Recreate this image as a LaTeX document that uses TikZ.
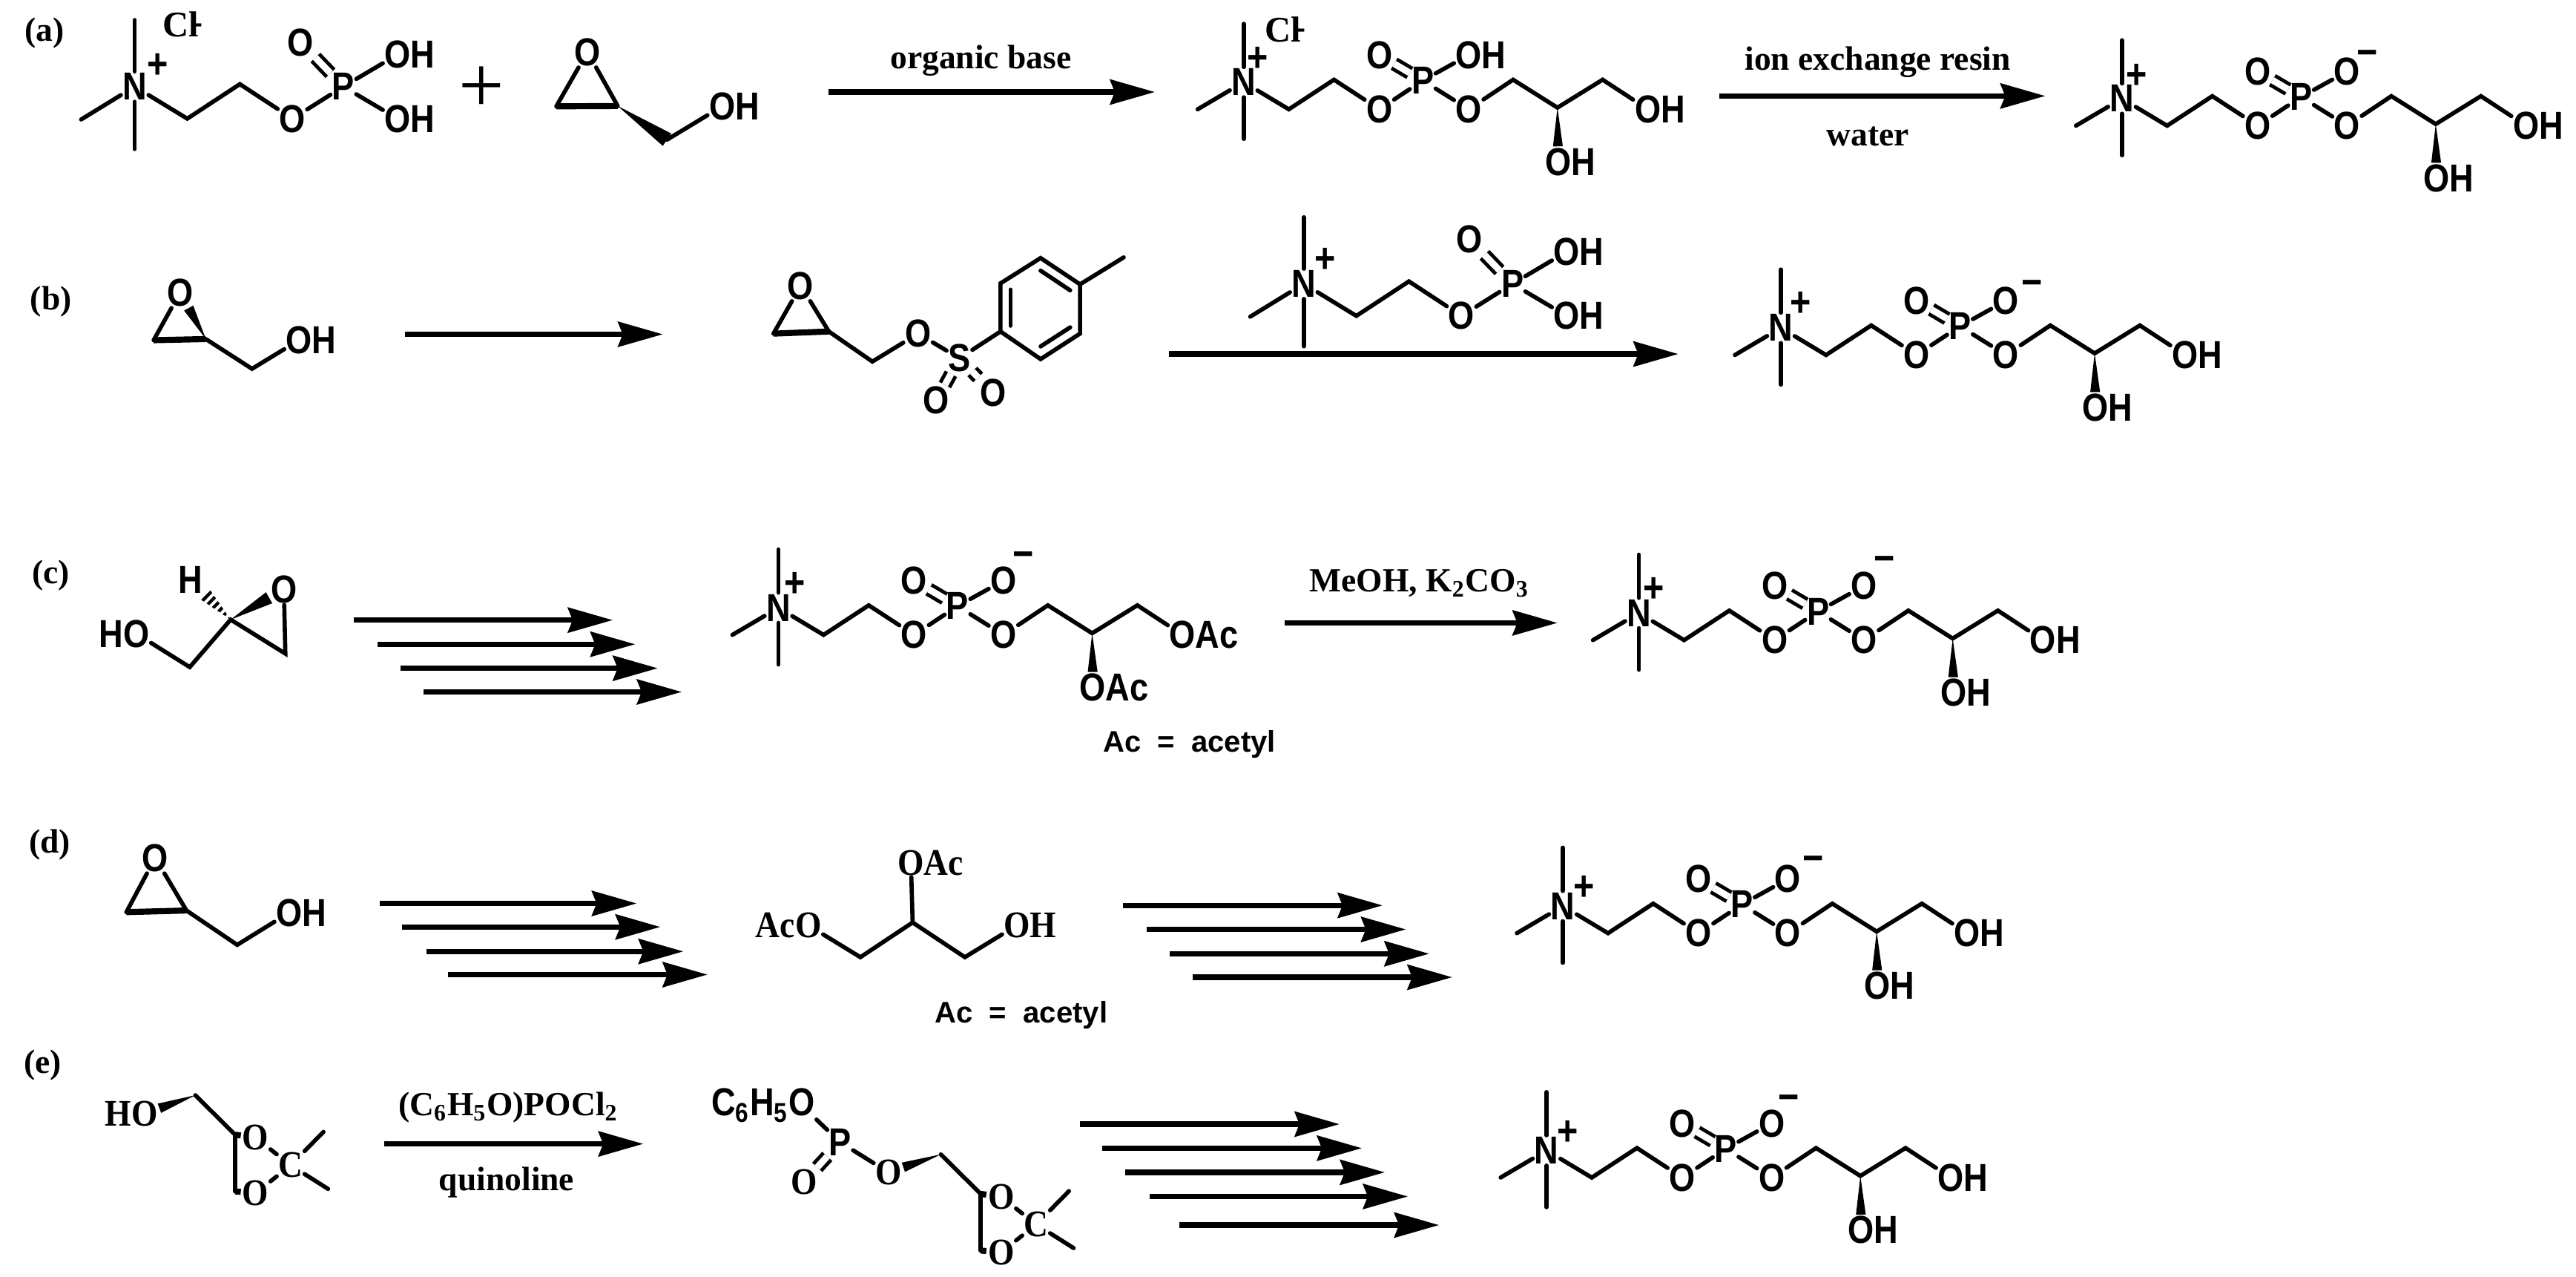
\documentclass[tikz,border=0pt]{standalone}
\usepackage{fontspec}
\setmainfont{Liberation Serif}
\newfontfamily\atomface[FakeStretch=0.86]{Liberation Sans}
\newfontfamily\serifface[FakeStretch=0.9]{Liberation Serif}
\newfontfamily\noteface[WordSpace=2]{Liberation Sans}
\usetikzlibrary{arrows.meta,calc}

\tikzset{
	bond/.style={line width=1.45pt,line cap=round},
	heavybond/.style={line width=2.1pt},
	dblbond/.style={double,double distance=2.3pt,line width=1.25pt},
	rxnarrow/.style={line width=1.9pt,-{Stealth[length=15.5pt,width=8.6pt,inset=1.6pt]}},
	atom/.style={font=\atomface\bfseries\fontsize{13.5}{13.5}\selectfont,inner sep=0.4pt},
	serifatom/.style={font=\serifface\bfseries\fontsize{13}{13}\selectfont,inner sep=0.4pt},
	charge/.style={font=\atomface\bfseries\fontsize{14.5}{14.5}\selectfont,inner sep=0pt},
	chloride/.style={font=\bfseries\fontsize{12.5}{13}\selectfont,inner sep=0pt},
	reagent/.style={font=\bfseries\fontsize{11.7}{12}\selectfont,inner sep=0pt},
	acnote/.style={font=\noteface\bfseries\fontsize{10.3}{12}\selectfont,inner sep=0pt}
}

\newcommand{\rxn}[4]{
	\coordinate (#1s) at (#2,#4);
	\coordinate (#1e) at (#3,#4);
	\draw[rxnarrow] (#1s) -- (#1e);
}
\newcommand{\wedgebond}[3]{
	\path (#1) -- (#2) coordinate[pos=1] (#1#2tip);
	\fill (#1) -- ($(#1#2tip)!#3!90:(#1)$) -- ($(#1#2tip)!#3!-90:(#1)$) -- cycle;
}

% phosphocholine glycerol chain, nitrogen at (#2,#3)
\newcommand{\gpc}[7]{
	\begin{scope}[shift={(#2,#3)},name prefix=#1-]
		\node[atom] (n) at (0,0) {N};
		\node[charge] (plus) at (#4) {+};
		\coordinate (me1) at (0,-35.5);
		\coordinate (me2) at (0,34.5);
		\coordinate (me3) at (-28,16.5);
		\coordinate (c1) at (27.5,16.5);
		\coordinate (c2) at (55,-1.5);
		\node[atom] (o1) at (82.6,16.5) {O};
		\node[atom] (p) at (109,-1) {P};
		\node[atom] (o2) at (82.6,-16.5) {O};
		\node[atom] (o3) at (137,-16.5) {#5};
		\node[atom] (o4) at (137,16.5) {O};
		\coordinate (c3) at (164,-1.5);
		\coordinate (c4) at (191,15.5);
		\coordinate (c5) at (218.5,-1.5);
		\node[atom] (o5) at (246,16.5) {#6};
		\node[atom] (o6) at (191.4,48.5) {#7};
		\draw[bond] (n) -- (me1);
		\draw[bond] (n) -- (me2);
		\draw[bond] (n) -- (me3);
		\draw[bond] (n) -- (c1) -- (c2) -- (o1) -- (p) -- (o3);
		\draw[dblbond] (p) -- (o2);
		\draw[bond] (p) -- (o4) -- (c3) -- (c4) -- (c5) -- (o5);
		\wedgebond{c4}{o6}{1.7pt}
	\end{scope}
}

% phosphocholine reagent, nitrogen at (#2,#3)
\newcommand{\chol}[4]{
	\begin{scope}[shift={(#2,#3)},name prefix=#1-]
		\node[atom] (n) at (0,0) {N};
		\node[charge] (plus) at (#4) {+};
		\coordinate (me1) at (0,-40.5);
		\coordinate (me2) at (0,38);
		\coordinate (me3) at (-32.6,20);
		\coordinate (c1) at (32,19.5);
		\coordinate (c2) at (64,-1.5);
		\node[atom] (o1) at (96,19.5) {O};
		\node[atom] (p) at (127,0) {P};
		\node[atom] (o2) at (101,-27) {O};
		\node[atom] (o3) at (160,-19.5) {O\rlap{H}};
		\node[atom] (o4) at (160,19.5) {O\rlap{H}};
		\draw[bond] (n) -- (me1);
		\draw[bond] (n) -- (me2);
		\draw[bond] (n) -- (me3);
		\draw[bond] (n) -- (c1) -- (c2) -- (o1) -- (p) -- (o3);
		\draw[dblbond] (p) -- (o2);
		\draw[bond] (p) -- (o4);
	\end{scope}
}

% acetonide ring hanging from the CH2 at (#2,#3)
\newcommand{\ketal}[3]{
	\begin{scope}[shift={(#2,#3)},name prefix=#1-]
		\coordinate (ch) at (0,0);
		\coordinate (ca) at (24.2,24);
		\coordinate (cb) at (24.2,58.5);
		\node[serifatom] (oa) at (36.7,25.8) {O};
		\node[serifatom] (ob) at (36.7,59.6) {O};
		\node[serifatom] (cq) at (58,42.6) {C};
		\coordinate (me1) at (78,22.3);
		\coordinate (me2) at (80.8,57);
		\draw[bond] (ch) -- (ca);
		\draw[bond] (ca) -- (cb);
		\draw[heavybond] (ca) -- (oa);
		\draw[heavybond] (cb) -- (ob);
		\draw[bond] (oa) -- (cq) -- (ob);
		\draw[bond] (cq) -- (me1);
		\draw[bond] (cq) -- (me2);
	\end{scope}
}

\begin{document}
\begin{tikzpicture}[x=0.02cm,y=-0.02cm]
	\useasboundingbox (0,0) rectangle (1568,777);

	% scheme a
	\node[reagent] (taga) at (27,20) {(a)};
	\chol{rca}{82}{52.7}{14,-12.7}
	\node[chloride] (cla) at (110,15) {Cl\rlap{\kern-2.6pt\raisebox{1pt}{-}}};
	\node[font=\fontsize{28}{28}\selectfont,inner sep=0pt] (pl) at (293,54.5) {+};
	\node[atom] (eao) at (357.6,31.6) {O};
	\coordinate (eal) at (338.6,64.7);
	\coordinate (ear) at (376,64.5);
	\coordinate (eac) at (406,85);
	\node[atom] (eaoh) at (439.6,64.7) {O\rlap{H}};
	\draw[bond] (eal) -- (eao) -- (ear);
	\draw[heavybond] (eal) -- (ear);
	\wedgebond{ear}{eac}{2.6pt}
	\draw[bond] (eac) -- (eaoh);
	\rxn{aa}{504.5}{703}{56}
	\node[reagent] (orgb) at (597,37) {organic base};
	\gpc{pa}{757}{50}{8.4,-13.7}{O\rlap{H}}{O\rlap{H}}{O\rlap{H}}
	\node[chloride] (clb) at (781,18) {Cl\rlap{\kern-2.6pt\raisebox{1pt}{-}}};
	\rxn{ab}{1046.6}{1245}{58.4}
	\node[reagent] (resin) at (1143,38) {ion exchange resin};
	\node[reagent] (water) at (1137,83) {water};
	\gpc{pb}{1291.6}{60}{9,-13.4}{O}{O\rlap{H}}{O\rlap{H}}
	\node[charge] (pbm) at (1441,35.7) {−};

	% scheme b
	\node[reagent] (tagb) at (31,183.6) {(b)};
	\node[atom] (ebo) at (109.6,178) {O};
	\coordinate (ebl) at (93.5,207);
	\coordinate (ebr) at (125.3,206.3);
	\coordinate (ebc) at (153.4,224.4);
	\node[atom] (eboh) at (182,207) {O\rlap{H}};
	\draw[bond] (ebl) -- (ebo);
	\wedgebond{ebr}{ebo}{1.8pt}
	\draw[heavybond] (ebl) -- (ebr);
	\draw[bond] (ebr) -- (ebc) -- (eboh);
	\rxn{ba}{246.4}{403.5}{203.4}
	\node[atom] (tso) at (487.4,173.8) {O};
	\coordinate (tsl) at (470.8,203);
	\coordinate (tsr) at (504.5,201.7);
	\coordinate (tsc) at (531,220);
	\node[atom] (tsoa) at (558.8,203) {O};
	\node[atom] (tss) at (584,218) {S};
	\node[atom] (tsob) at (570,243.7) {O};
	\node[atom] (tsoc) at (604.4,238.9) {O};
	\coordinate (ra) at (609,201.7);
	\coordinate (rb) at (609,172.4);
	\coordinate (rc) at (633.4,157);
	\coordinate (rd) at (657.4,173);
	\coordinate (re) at (657.4,203);
	\coordinate (rf) at (633.4,218.5);
	\coordinate (rm) at (684,156.6);
	\coordinate (rz) at (633.4,187.7);
	\draw[bond] (tsl) -- (tso) -- (tsr);
	\draw[heavybond] (tsl) -- (tsr);
	\draw[bond] (tsr) -- (tsc) -- (tsoa) -- (tss) -- (ra);
	\draw[dblbond] (tss) -- (tsob);
	\draw[dblbond] (tss) -- (tsoc);
	\draw[bond] (ra) -- (rb) -- (rc) -- (rd) -- (re) -- (rf) -- (ra);
	\draw[bond] (rd) -- (rm);
	\draw[bond] ($(ra)!.25!(rz)$) -- ($(rb)!.25!(rz)$);
	\draw[bond] ($(rc)!.25!(rz)$) -- ($(rd)!.25!(rz)$);
	\draw[bond] ($(re)!.25!(rz)$) -- ($(rf)!.25!(rz)$);
	\chol{rcb}{793.6}{172.7}{12.9,-14.3}
	\rxn{bb}{711.6}{1021.6}{215.4}
	\gpc{pc}{1084}{199.5}{12,-14.5}{O}{O\rlap{H}}{O\rlap{H}}
	\node[charge] (pcm) at (1237,175.6) {−};

	% scheme c
	\node[reagent] (tagc) at (31,350) {(c)};
	\node[atom] (ech) at (116,353) {H};
	\coordinate (ecs) at (140.4,377);
	\node[atom] (eco) at (172.8,358.6) {O};
	\coordinate (ecb) at (173.7,397.7);
	\coordinate (ecc) at (115.5,405.9);
	\node[atom] (ecoh) at (83,385.6) {\llap{H}O};
	\wedgebond{ecs}{eco}{2.2pt}
	\draw[bond] (eco) -- (ecb) -- (ecs) -- (ecc) -- (ecoh);
	\path (ecs) -- (ech) coordinate[pos=1] (echtip);
	\begin{scope}
		\clip (ecs) -- ($(echtip)!2.4pt!90:(ecs)$) -- ($(echtip)!2.4pt!-90:(ecs)$) -- cycle;
		\draw[line width=6pt,dash pattern=on 1.1pt off 1.1pt] (ecs) -- (echtip);
	\end{scope}
	\foreach \k/\xa/\xb/\ya in {1/215.3/373/377.3,2/230/386.7/392,3/243.7/400.4/406.6,4/257.9/415/421}
		{\rxn{ca\k}{\xa}{\xb}{\ya}}
	\gpc{pd}{473.8}{369.8}{10,-14}{O}{O\rlap{Ac}}{O\rlap{Ac}}
	\node[charge] (pdm) at (623,340.8) {−};
	\node[acnote] (acc) at (724,453) {Ac = acetyl};
	\rxn{cb}{782}{948}{379}
	\node[reagent] (meoh) at (864,355) {MeOH, K\textsubscript{2}CO\textsubscript{3}};
	\gpc{pe}{997.6}{373}{9,-14}{O}{O\rlap{H}}{O\rlap{H}}
	\node[charge] (pem) at (1147,343.6) {−};

	% scheme d
	\node[reagent] (tagd) at (30.4,513.9) {(d)};
	\node[atom] (edo) at (94.5,522) {O};
	\coordinate (edl) at (76.9,555);
	\coordinate (edr) at (113.5,554);
	\coordinate (edc) at (144.4,574.9);
	\node[atom] (edoh) at (176,555.3) {O\rlap{H}};
	\draw[bond] (edl) -- (edo) -- (edr);
	\draw[heavybond] (edl) -- (edr);
	\draw[bond] (edr) -- (edc) -- (edoh);
	\foreach \k/\xa/\xb/\ya in {1/231/387.6/549.7,2/244.7/402/564,3/259.4/416/578.9,4/272.6/430.7/593}
		{\rxn{da\k}{\xa}{\xb}{\ya}}
	\node[serifatom] (tra) at (492,563) {\llap{Ac}O};
	\coordinate (trb) at (523.7,582.4);
	\coordinate (trc) at (555.5,561.3);
	\coordinate (trd) at (587.3,582.4);
	\node[serifatom] (tre) at (619,563) {O\rlap{H}};
	\node[serifatom] (trf) at (554.5,525) {O\rlap{Ac}};
	\draw[bond] (tra) -- (trb) -- (trc) -- (trd) -- (tre);
	\draw[bond] (trc) -- (trf);
	\node[acnote] (acd) at (621.6,617.7) {Ac = acetyl};
	\foreach \k/\xa/\xb/\ya in {1/683.6/841.6/550.9,2/697.8/855.8/565.5,3/712/870/580.3,4/726/884/594.6}
		{\rxn{db\k}{\xa}{\xb}{\ya}}
	\gpc{pf}{951.3}{551.3}{13,-11}{O}{O\rlap{H}}{O\rlap{H}}
	\node[charge] (pfm) at (1103.8,526) {−};

	% scheme e
	\node[reagent] (tage) at (26,648) {(e)};
	\node[serifatom] (hoa) at (88,677.6) {\llap{H}O};
	\ketal{ka}{118.9}{666.4}
	\wedgebond{ka-ch}{hoa}{1.7pt}
	\rxn{ea}{234}{391.6}{696}
	\node[reagent] (pocl) at (309.4,674) {(C\textsubscript{6}H\textsubscript{5}O)POCl\textsubscript{2}};
	\node[reagent] (quin) at (308.4,719.4) {quinoline};
	\node[atom] (pho) at (488,672.6) {\llap{C\textsubscript{6}H\textsubscript{5}}O};
	\node[atom] (php) at (511.4,695) {P};
	\node[serifatom] (phq) at (489.5,719) {O};
	\node[serifatom] (phr) at (540.8,713.3) {O};
	\ketal{kb}{572.7}{702.4}
	\draw[bond] (pho) -- (php) -- (phr);
	\draw[dblbond] (php) -- (phq);
	\wedgebond{kb-ch}{phr}{1.7pt}
	\foreach \k/\xa/\xb/\ya in {1/657.4/815.4/684,2/671/829/698.6,3/685/843/713.3,4/699.8/857/728,5/718/876/745.4}
		{\rxn{eb\k}{\xa}{\xb}{\ya}}
	\gpc{pg}{941.4}{700}{13,-10.6}{O}{O\rlap{H}}{O\rlap{H}}
	\node[charge] (pgm) at (1089,671) {−};
\end{tikzpicture}
\end{document}
